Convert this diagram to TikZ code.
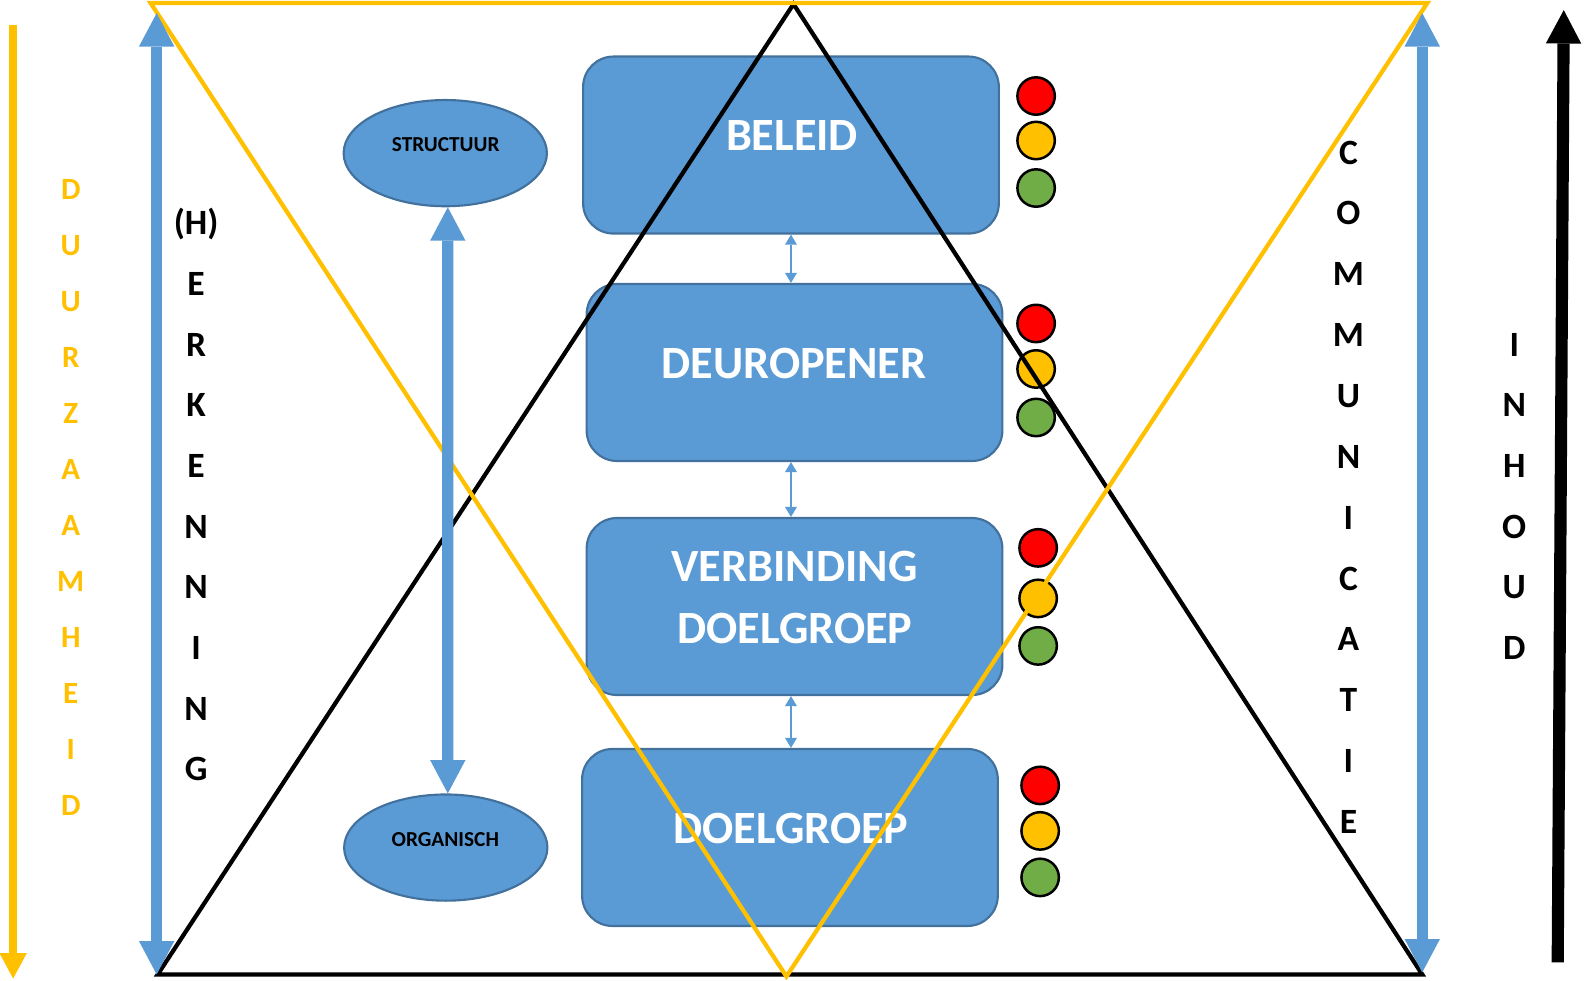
\documentclass[tikz,border=0pt]{standalone}
\usepackage{fontspec}
\setmainfont{Carlito}
\usetikzlibrary{arrows.meta,shapes.geometric}
\definecolor{boxblue}{HTML}{5B9BD5}
\definecolor{boxedge}{HTML}{41719C}
\definecolor{gold}{HTML}{FFC000}
\definecolor{tlgreen}{HTML}{70AD47}
\definecolor{tlred}{HTML}{FF0000}
\begin{document}
\begin{tikzpicture}[x=0.01cm,y=-0.01cm,
  bluebox/.style={draw=boxedge,line width=0.6pt,fill=boxblue,rounded corners=0.3cm,
    minimum width=4.11cm,minimum height=1.75cm,inner sep=0pt},
  boxtext/.style={text=white,font=\fontsize{13}{17}\selectfont\bfseries,anchor=base,inner sep=0pt},
  oval/.style={ellipse,draw=boxedge,line width=0.6pt,fill=boxblue,
    minimum width=2.01cm,minimum height=1.05cm,inner sep=0pt},
  ovaltext/.style={text=black,font=\fontsize{6}{7}\selectfont\bfseries,anchor=base,inner sep=0pt},
  lamp/.style={circle,draw=black,line width=0.7pt,minimum size=0.37cm,inner sep=0pt},
  blackletter/.style={text=black,font=\fontsize{10}{12}\selectfont\bfseries,anchor=base,inner sep=0pt},
  goldletter/.style={text=gold,font=\fontsize{8.7}{10}\selectfont\bfseries,anchor=base,inner sep=0pt},
  bluearrow/.style={draw=boxblue,line width=0.11cm,line cap=butt,
    {Triangle[width=0.35cm,length=0.33cm,line width=0pt]}-{Triangle[width=0.35cm,length=0.33cm,line width=0pt]}},
  smallarrow/.style={draw=boxblue,line width=0.015cm,
    {Triangle[width=0.12cm,length=0.1cm,line width=0pt]}-{Triangle[width=0.12cm,length=0.1cm,line width=0pt]}},
  blackarrow/.style={draw=black,line width=0.12cm,line cap=butt,
    -{Triangle[width=0.35cm,length=0.33cm,line width=0pt]}},
  goldarrow/.style={draw=gold,line width=0.08cm,line cap=butt,
    -{Triangle[width=0.27cm,length=0.25cm,line width=0pt]}},
  tri/.style={line width=0.042cm,line join=miter}
]
\fill[white] (0,0) rectangle (1568,970);
\useasboundingbox (0,0) rectangle (1568,970);

% boxes
\node[bluebox] (beleid) at (782.5,143.5) {};
\node[bluebox] (deur) at (786,368.5) {};
\node[bluebox] (verb) at (786,600) {};
\node[bluebox] (doel) at (781.5,828.5) {};

\node[boxtext] (beleidtxt) at (783.5,149.2) {BELEID};
\node[boxtext] (deurtxt) at (785.5,374.7) {DEUROPENER};
\node[boxtext] (verbtxta) at (786,575.7) {VERBINDING};
\node[boxtext] (verbtxtb) at (786.5,636.7) {DOELGROEP};
\node[boxtext] (doeltxt) at (782.5,834.7) {DOELGROEP};

% small connectors
\draw[smallarrow] (beleid.south) -- (beleid.south |- deur.north);
\draw[smallarrow] (deur.south -| beleid.south) -- (beleid.south |- verb.north);
\draw[smallarrow] (verb.south -| beleid.south) -- (beleid.south |- doel.north);

% ellipses
\node[oval] (structuur) at (440.5,151.5) {};
\node[oval] (organisch) at (441,838.5) {};
\node[ovaltext] (structuurtxt) at (441,149.8) {STRUCTUUR};
\node[ovaltext] (organischtxt) at (440.5,837.8) {ORGANISCH};

% traffic lights
\foreach \n/\x/\ya/\yb/\yc in {1/1025/95/139/186, 2/1025/320/365/413, 3/1027/542/592/639, 4/1029/777/822/868}{
  \node[lamp,fill=tlred] (red\n) at (\x,\ya) {};
  \node[lamp,fill=gold] (amber\n) at (\x,\yb) {};
  \node[lamp,fill=tlgreen] (green\n) at (\x,\yc) {};
}

% triangles
\coordinate (bt) at (785,4);
\coordinate (bl) at (156,964);
\coordinate (br) at (1407,964);
\draw[tri,black] (bt) -- (br) -- (bl) -- cycle;
\coordinate (ol) at (149,3);
\coordinate (or) at (1412,3);
\coordinate (ob) at (778,966);
\draw[tri,gold] (ol) -- (or) -- (ob) -- cycle;

% big arrows
\draw[bluearrow] ([xshift=0.025cm]structuur.south) -- ([xshift=0.02cm]organisch.north);
\coordinate (herkT) at (155,13);
\coordinate (herkB) at (155,964);
\draw[bluearrow] (herkT) -- (herkB);
\coordinate (commT) at (1407,13);
\coordinate (commB) at (1407,962);
\draw[bluearrow] (commT) -- (commB);
\coordinate (inhS) at (1541,952);
\coordinate (inhN) at (1547,10);
\draw[blackarrow] (inhS) -- (inhN);
\coordinate (duurT) at (13,25);
\coordinate (duurB) at (13,968);
\draw[goldarrow] (duurT) -- (duurB);

% vertical words
\foreach \c [count=\i from 0] in {D,U,U,R,Z,A,A,M,H,E,I,D}
  \node[goldletter] (duur\i) at (70,{187.5+55.4*\i+9.8}) {\c};
\foreach \c [count=\i from 0] in {{(H)},E,R,K,E,N,N,I,N,G}
  \node[blackletter] (herk\i) at (194,{221+60*\i+11.3}) {\c};
\foreach \c [count=\i from 0] in {C,O,M,M,U,N,I,C,A,T,I,E}
  \node[blackletter] (comm\i) at (1334,{151+60.2*\i+11.3}) {\c};
\foreach \c [count=\i from 0] in {I,N,H,O,U,D}
  \node[blackletter] (inh\i) at (1498,{341+60*\i+11.3}) {\c};
\end{tikzpicture}
\end{document}
